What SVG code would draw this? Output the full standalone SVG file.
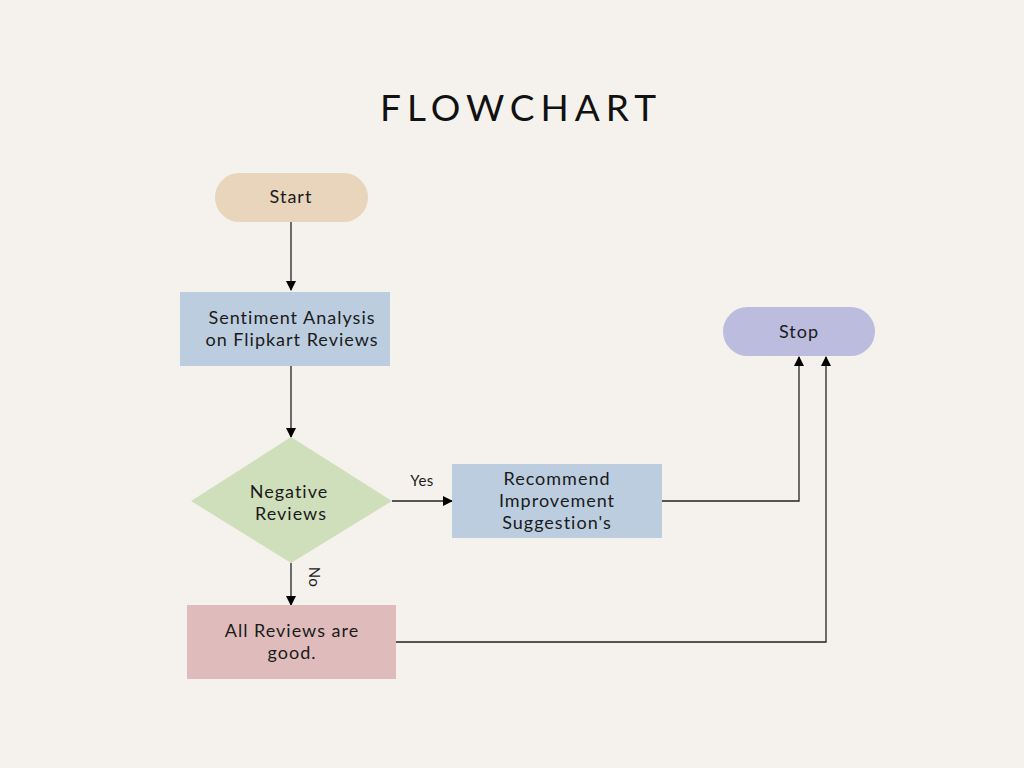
<svg xmlns="http://www.w3.org/2000/svg" width="1024" height="768" viewBox="0 0 1024 768">
<defs>
<marker id="arr" markerWidth="10" markerHeight="10" refX="9" refY="5" orient="auto" markerUnits="userSpaceOnUse">
<path d="M0,0 L10,5 L0,10 Z" fill="#000"/>
</marker>
</defs>
<style>
.t{font-family:Lato,"Open Sans",sans-serif;font-size:18px;letter-spacing:1px;fill:#1a1a1a;text-anchor:middle}
.s{font-size:15px;letter-spacing:0.5px}
.c{fill:none;stroke:#222;stroke-width:1.3}
</style>
<rect width="1024" height="768" fill="#f5f2ee"/>
<text x="521" y="121" font-family="Lato,'Open Sans',sans-serif" font-size="37" font-weight="400" letter-spacing="6" text-anchor="middle" fill="#111">FLOWCHART</text>
<g id="connectors">
<path class="c" d="M291,222 V290" marker-end="url(#arr)"/>
<path class="c" d="M291,366 V437" marker-end="url(#arr)"/>
<path class="c" d="M392,501 H452" marker-end="url(#arr)"/>
<path class="c" d="M291,563 V605" marker-end="url(#arr)"/>
<path class="c" d="M662,501 H799 V357" marker-end="url(#arr)"/>
<path class="c" d="M396,642 H826 V357" marker-end="url(#arr)"/>
<text class="t s" x="422" y="486">Yes</text>
<text class="t s" transform="translate(309,577) rotate(90)">No</text>
</g>
<g id="start">
<rect x="215" y="173" width="153" height="49" rx="24.5" fill="#e8d5bb"/>
<text class="t" x="291" y="203">Start</text>
</g>
<g id="sentiment">
<rect x="180" y="292" width="210" height="74" fill="#bccde0"/>
<text class="t" x="292" y="324">Sentiment Analysis</text>
<text class="t" x="292" y="346">on Flipkart Reviews</text>
</g>
<g id="decision">
<polygon points="291,437 392,501 291,563 191,501" fill="#cfdfbb"/>
<text class="t" x="289" y="498">Negative</text>
<text class="t" x="291" y="520">Reviews</text>
</g>
<g id="recommend">
<rect x="452" y="464" width="210" height="74" fill="#bccde0"/>
<text class="t" x="557" y="485">Recommend</text>
<text class="t" x="557" y="507">Improvement</text>
<text class="t" x="557" y="529">Suggestion's</text>
</g>
<g id="allgood">
<rect x="187" y="605" width="209" height="74" fill="#dfbcbb"/>
<text class="t" x="292" y="637">All Reviews are</text>
<text class="t" x="292" y="659">good.</text>
</g>
<g id="stop">
<rect x="723" y="307" width="152" height="49" rx="24.5" fill="#bcbcdf"/>
<text class="t" x="799" y="338">Stop</text>
</g>
</svg>
